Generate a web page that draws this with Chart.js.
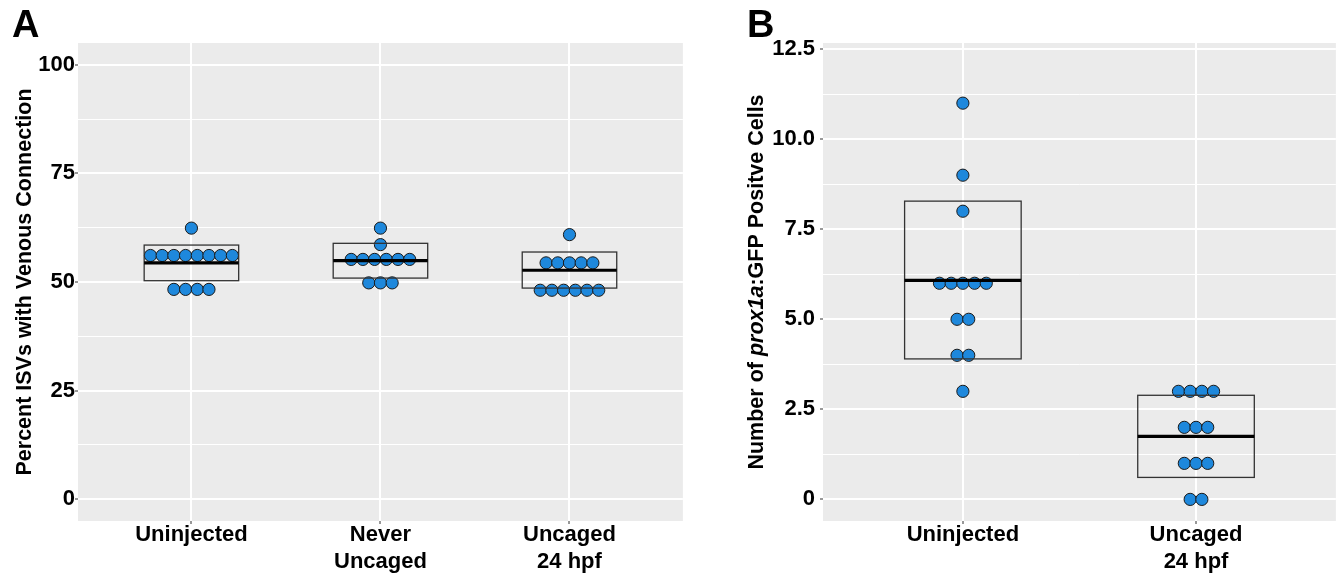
<!DOCTYPE html>
<html>
<head>
<meta charset="utf-8">
<title>ISV venous connection and prox1a:GFP cells</title>
<script src="https://cdn.jsdelivr.net/npm/chart.js@4.4.1/dist/chart.umd.min.js"></script>
<style>
  html, body { margin: 0; padding: 0; background: #fff; }
  #wrap { position: relative; width: 1343px; height: 580px; }
  .panel { position: absolute; top: 0; height: 580px; }
  #pa { left: 0; width: 690px; }
  #pb { left: 690px; width: 653px; }
</style>
</head>
<body>
<div id="wrap">
  <div class="panel" id="pa"><canvas id="chartA" width="690" height="580"></canvas></div>
  <div class="panel" id="pb"><canvas id="chartB" width="653" height="580"></canvas></div>
</div>

<script>
// ---- panel A: percent ISVs with venous connection
const catsA = ['Uninjected', 'Never\nUncaged', 'Uncaged\n24 hpf'];
const pctUninjected = [62.4, 56.1, 56.1, 56.1, 56.1, 56.1, 56.1, 56.1, 56.1, 48.3, 48.3, 48.3, 48.3];
const pctNeverUncaged = [62.4, 58.6, 55.2, 55.2, 55.2, 55.2, 55.2, 55.2, 49.8, 49.8, 49.8];
const pctUncaged24 = [60.9, 54.4, 54.4, 54.4, 54.4, 54.4, 48.1, 48.1, 48.1, 48.1, 48.1, 48.1];
const boxMeanA = [54.4, 54.9, 52.7];
const boxLowA = [50.3, 50.9, 48.6];
const boxHighA = [58.5, 58.9, 56.9];
const ticksA = [0, 25, 50, 75, 100];
const tickLabelsA = ['0', '25', '50', '75', '100'];

// ---- panel B: number of prox1a:GFP positive cells
const catsB = ['Uninjected', 'Uncaged\n24 hpf'];
const cellsUninjected = [11, 9, 8, 6, 6, 6, 6, 6, 5, 5, 4, 4, 3];
const cellsUncaged24 = [3, 3, 3, 3, 2, 2, 2, 1, 1, 1, 0, 0];
const boxMeanB = [6.08, 1.75];
const boxLowB = [3.9, 0.61];
const boxHighB = [8.28, 2.89];
const ticksB = [0, 2.5, 5, 7.5, 10, 12.5];
const tickLabelsB = ['0', '2.5', '5.0', '7.5', '10.0', '12.5'];

const FONT = '"Liberation Sans", Arial, Helvetica, sans-serif';
const DOT_GAP = 11.7;   // px between neighbouring dots in a row
const DOT_FILL = '#1e88dc';

// equal values go into one row; slot is the position inside that row
function swarm(values, cat) {
  const rows = new Map();
  values.forEach(v => { if (!rows.has(v)) rows.set(v, []); rows.get(v).push(v); });
  const pts = [];
  rows.forEach(row => row.forEach((v, i) => pts.push({ x: cat, y: v, cat: cat, slot: i - (row.length - 1) / 2 })));
  return pts;
}

function withMinor(majors) {
  const out = [];
  majors.forEach((v, i) => { if (i > 0) out.push((majors[i - 1] + v) / 2); out.push(v); });
  return out;
}

const panelBg = {
  id: 'panelBg',
  beforeDraw(chart) {
    const a = chart.chartArea, ctx = chart.ctx;
    ctx.save();
    ctx.fillStyle = '#ebebeb';
    ctx.fillRect(a.left, a.top, a.right - a.left, a.bottom - a.top);
    ctx.restore();
  }
};

// crossbars (mean and spread) drawn over the dots
const crossbars = {
  id: 'crossbars',
  afterDatasetsDraw(chart, args, opts) {
    const x = chart.scales.x, y = chart.scales.y, ctx = chart.ctx;
    ctx.save();
    opts.mean.forEach((m, i) => {
      const l = x.getPixelForValue(i + 1 - 0.25), r = x.getPixelForValue(i + 1 + 0.25);
      const t = y.getPixelForValue(opts.high[i]), b = y.getPixelForValue(opts.low[i]);
      ctx.strokeStyle = '#333';
      ctx.lineWidth = 1.3;
      ctx.strokeRect(l, t, r - l, b - t);
      ctx.strokeStyle = '#000';
      ctx.lineWidth = 3.2;
      ctx.beginPath();
      const my = y.getPixelForValue(m);
      ctx.moveTo(l, my); ctx.lineTo(r, my);
      ctx.stroke();
    });
    ctx.restore();
  }
};

const labels = {
  id: 'labels',
  afterDraw(chart, args, opts) {
    const ctx = chart.ctx, a = chart.chartArea;
    ctx.save();
    ctx.fillStyle = '#000';
    ctx.font = 'bold 38px ' + FONT;
    ctx.textBaseline = 'alphabetic';
    ctx.textAlign = 'left';
    ctx.fillText(opts.letter, opts.letterX, 37);

    ctx.translate(opts.titleX, (a.top + a.bottom) / 2);
    ctx.rotate(-Math.PI / 2);
    ctx.textBaseline = 'middle';
    const fonts = opts.title.map(p => (p.italic ? 'italic ' : '') + 'bold 21.5px ' + FONT);
    let total = 0;
    opts.title.forEach((p, i) => { ctx.font = fonts[i]; total += ctx.measureText(p.text).width; });
    let pos = -total / 2;
    opts.title.forEach((p, i) => {
      ctx.font = fonts[i];
      ctx.fillText(p.text, pos, 0);
      pos += ctx.measureText(p.text).width;
    });
    ctx.restore();
  }
};

function makeChart(id, cfg) {
  const grid = withMinor(cfg.ticks);
  const isMajor = v => cfg.ticks.includes(v);
  const tickFont = { family: FONT, size: 22, weight: 'bold', lineHeight: 1.23 };
  const chart = new Chart(document.getElementById(id), {
    type: 'scatter',
    data: {
      datasets: cfg.groups.map((vals, i) => ({
        data: swarm(vals, i + 1),
        backgroundColor: DOT_FILL,
        borderColor: '#1a1a1a',
        borderWidth: 1,
        pointRadius: 6.1,
        pointHoverRadius: 6.1
      }))
    },
    options: {
      responsive: false,
      animation: false,
      devicePixelRatio: 1,
      layout: { padding: { top: 43, right: cfg.padRight, left: 0, bottom: 0 } },
      plugins: {
        legend: { display: false },
        tooltip: { enabled: false },
        crossbars: { mean: cfg.mean, low: cfg.low, high: cfg.high },
        labels: { letter: cfg.letter, letterX: cfg.letterX, titleX: cfg.titleX, title: cfg.title }
      },
      scales: {
        x: {
          type: 'linear',
          min: 0.4,
          max: cfg.cats.length + 0.6,
          afterBuildTicks: s => { s.ticks = cfg.cats.map((c, i) => ({ value: i + 1 })); },
          afterFit: s => { s.height = 59; },
          border: { display: false },
          grid: { color: '#fff', lineWidth: 2, tickLength: 3, tickColor: '#333', tickWidth: 1 },
          ticks: {
            autoSkip: false, maxRotation: 0, minRotation: 0, padding: -3,
            color: '#000', font: tickFont,
            callback: v => (cfg.cats[v - 1] || '').split('\n')
          }
        },
        y: {
          min: cfg.yMin,
          max: cfg.yMax,
          afterBuildTicks: s => { s.ticks = grid.map(v => ({ value: v })); },
          afterFit: s => { s.width = cfg.yWidth; },
          border: { display: false },
          grid: {
            color: '#fff',
            lineWidth: c => (isMajor(c.tick.value) ? 2 : 1),
            tickLength: 3,
            tickColor: c => (isMajor(c.tick.value) ? '#333' : 'rgba(0,0,0,0)'),
            tickWidth: 1
          },
          ticks: {
            autoSkip: false, padding: cfg.yPad, color: '#000', font: tickFont,
            callback: v => { const k = cfg.ticks.indexOf(v); return k < 0 ? '' : cfg.tickLabels[k]; }
          }
        }
      }
    },
    plugins: [panelBg, crossbars, labels]
  });

  // spread each row of dots sideways by a fixed pixel gap
  const unit = chart.scales.x.getPixelForValue(1) - chart.scales.x.getPixelForValue(0);
  chart.data.datasets.forEach(ds => ds.data.forEach(p => { p.x = p.cat + p.slot * DOT_GAP / unit; }));
  chart.update('none');
  return chart;
}

makeChart('chartA', {
  cats: catsA,
  groups: [pctUninjected, pctNeverUncaged, pctUncaged24],
  mean: boxMeanA, low: boxLowA, high: boxHighA,
  ticks: ticksA, tickLabels: tickLabelsA,
  yMin: -5, yMax: 105, yWidth: 78, yPad: 0, padRight: 7,
  letter: 'A', letterX: 12, titleX: 25,
  title: [{ text: 'Percent ISVs with Venous Connection' }]
});

makeChart('chartB', {
  cats: catsB,
  groups: [cellsUninjected, cellsUncaged24],
  mean: boxMeanB, low: boxLowB, high: boxHighB,
  ticks: ticksB, tickLabels: tickLabelsB,
  yMin: -0.6, yMax: 12.67, yWidth: 133, yPad: 5, padRight: 3,
  letter: 'B', letterX: 57, titleX: 67,
  title: [{ text: 'Number of ' }, { text: 'prox1a', italic: true }, { text: ':GFP Positve Cells' }]
});
</script>
</body>
</html>
